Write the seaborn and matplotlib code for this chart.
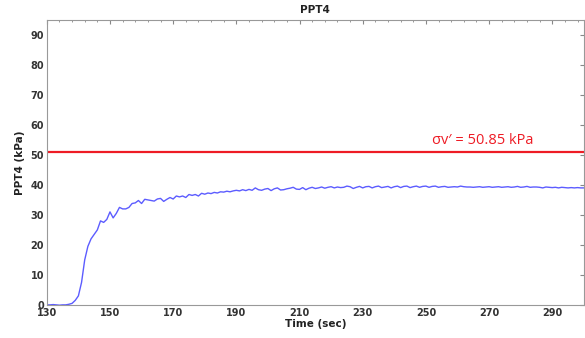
import numpy as np
import pandas as pd
import matplotlib
matplotlib.use('Agg')
import matplotlib.pyplot as plt
from matplotlib.ticker import MultipleLocator
import seaborn as sns

# 数据 (每秒一个点)
time_sec = np.arange(130, 301)
ppt4 = [
    0, 0, 0.1, 0, -0.1, 0, 0, 0.2,
    0.5, 1.5, 3, 7.5, 15, 19.5, 22, 23.5, 25, 28, 27.5, 28.5,
    31, 29, 30.5, 32.5, 32, 32, 32.5, 33.8, 34, 34.8,
    33.8, 35.2, 35, 34.8, 34.6, 35.3, 35.5, 34.5, 35.2, 35.8,
    35.3, 36.3, 36, 36.3, 35.8, 36.8, 36.5, 36.8, 36.3, 37.2,
    36.9, 37.3, 37.1, 37.5, 37.3, 37.7, 37.6, 37.9, 37.7, 38,
    38.2, 38, 38.4, 38.1, 38.5, 38.2, 39, 38.4, 38.2, 38.6,
    38.8, 38.1, 38.7, 39, 38.3, 38.4, 38.7, 38.9, 39.2, 38.6,
    38.5, 39.1, 38.4, 38.9, 39.2, 38.8, 39, 39.3, 38.9, 39.2,
    39.4, 39.0, 39.3, 39.1, 39.2, 39.6, 39.4, 38.8, 39.2, 39.5,
    39.0, 39.4, 39.5, 39.0, 39.4, 39.6, 39.1, 39.3, 39.5, 39.0,
    39.4, 39.6, 39.1, 39.5, 39.6, 39.1, 39.4, 39.6, 39.2, 39.5,
    39.6, 39.2, 39.5, 39.6, 39.2, 39.4, 39.5, 39.2, 39.3, 39.4,
    39.3, 39.6, 39.4, 39.3, 39.3, 39.2, 39.3, 39.4, 39.2, 39.3,
    39.4, 39.2, 39.3, 39.4, 39.2, 39.3, 39.4, 39.2, 39.3, 39.5,
    39.2, 39.3, 39.5, 39.2, 39.3, 39.3, 39.2, 39.0, 39.3, 39.2,
    39.1, 39.2, 39.0, 39.2, 39.1, 39.0, 39.1, 39.0, 39.1, 39.0,
    39.0,
]
sigma_v = 50.85
sigma_label = 'σv′ = 50.85 kPa'
x_ticks = list(range(130, 300, 20))

df = pd.DataFrame({'Time (sec)': time_sec, 'PPT4 (kPa)': ppt4})

sns.set_style('white')
plt.rcParams['font.family'] = ['DejaVu Sans']

fig = plt.figure(figsize=(5.85, 3.38), dpi=100)
ax = fig.add_axes([0.080, 0.098, 0.918, 0.843])

sns.lineplot(data=df, x='Time (sec)', y='PPT4 (kPa)', color='#5c5cff', linewidth=1.0, ax=ax)
ax.axhline(sigma_v, color='#ee1c25', linewidth=1.6)
ax.text(252, sigma_v + 1.6, sigma_label, color='#ee1c25', fontsize=10.5,
        family=['Open Sans', 'DejaVu Sans'], va='bottom', ha='left')

ax.set_xlim(130, 300)
ax.set_ylim(0, 95)
ax.set_xticks(x_ticks)
ax.xaxis.set_minor_locator(MultipleLocator(4, offset=2))
ax.yaxis.set_major_locator(MultipleLocator(10))

ax.tick_params(which='both', direction='in', top=True, right=True, colors='#888888',
               labelcolor='#333333', labelsize=7, pad=2)
ax.tick_params(which='major', length=3, width=0.8)
ax.tick_params(which='minor', length=1.5, width=0.6)
for lbl in ax.get_xticklabels() + ax.get_yticklabels():
    lbl.set_fontweight('bold')
for s in ax.spines.values():
    s.set_color('#999999')
    s.set_linewidth(0.8)

ax.set_xlabel('Time (sec)', fontsize=7.5, fontweight='bold', color='#222222', labelpad=1)
ax.set_ylabel('PPT4 (kPa)', fontsize=7.5, fontweight='bold', color='#222222', labelpad=4)
ax.set_title('PPT4', fontsize=7.5, fontweight='bold', color='#222222', pad=5)

fig.savefig('out.png', dpi=100)
